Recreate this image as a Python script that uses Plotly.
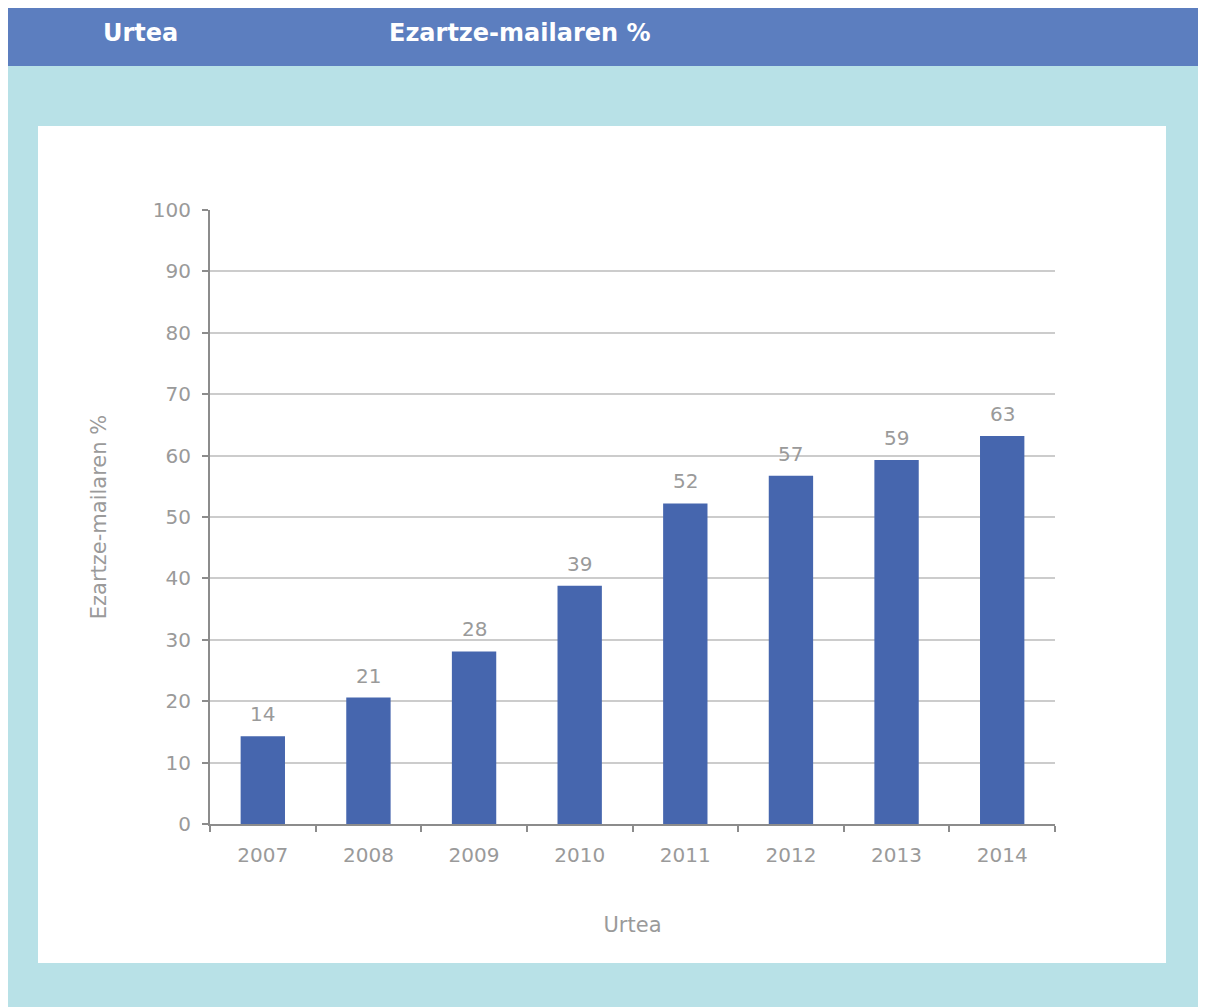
import plotly.graph_objects as go

years = ["2007", "2008", "2009", "2010", "2011", "2012", "2013", "2014"]
values = [14.3, 20.6, 28.1, 38.8, 52.2, 56.7, 59.3, 63.2]
labels = [str(round(v)) for v in values]
y_ticks = [0, 10, 20, 30, 40, 50, 60, 70, 80, 90, 100]

# page has an 8px body margin, so figure coords = screen coords - 8
OFF = 8
W, H = 1206 - OFF, 1007 - OFF
L, R, T, B = 210 - OFF, 1055 - OFF, 210 - OFF, 824 - OFF  # plot area in figure pixels


def px(x):
    return (x - OFF - L) / (R - L)


def py(y):
    return (B - (y - OFF)) / (B - T)


FONT = "DejaVu Sans"
GRAY = "#9a9a9a"
AXIS = "#8c8c8c"

fig = go.Figure(
    go.Bar(
        x=years,
        y=values,
        marker=dict(color="#4666ae", line=dict(width=0)),
        width=0.42,
        hoverinfo="x+y",
    )
)

shapes = [
    dict(type="rect", xref="paper", yref="paper", x0=px(0), x1=px(1300), y0=py(66), y1=py(1100),
         fillcolor="#b8e1e7", line=dict(width=0), layer="below"),
    dict(type="rect", xref="paper", yref="paper", x0=px(0), x1=px(1300), y0=py(0), y1=py(66),
         fillcolor="#5c7ebf", line=dict(width=0), layer="below"),
    dict(type="rect", xref="paper", yref="paper", x0=px(38), x1=px(1166), y0=py(126), y1=py(963),
         fillcolor="#ffffff", line=dict(width=0), layer="below"),
]

annotations = [
    dict(text="<b>Urtea</b>", xref="paper", yref="paper", x=px(140), y=py(33),
         xanchor="center", yanchor="middle", showarrow=False,
         font=dict(family=FONT, size=24, color="white")),
    dict(text="<b>Ezartze-mailaren %</b>", xref="paper", yref="paper", x=px(387), y=py(33),
         xanchor="left", yanchor="middle", showarrow=False,
         font=dict(family=FONT, size=24, color="white")),
]
for i, (v, lab) in enumerate(zip(values, labels)):
    annotations.append(
        dict(text=lab, x=i, y=v, xref="x", yref="y", xanchor="center", yanchor="bottom",
             yshift=8, showarrow=False, font=dict(family=FONT, size=20, color=GRAY))
    )

fig.update_layout(
    width=W,
    height=H,
    margin=dict(l=L, r=W - R, t=T, b=H - B, pad=0),
    paper_bgcolor="white",
    plot_bgcolor="rgba(0,0,0,0)",
    shapes=shapes,
    annotations=annotations,
    showlegend=False,
    font=dict(family=FONT, color=GRAY, size=20),
)

fig.update_xaxes(
    type="category",
    range=[-0.5, len(years) - 0.5],
    autorange=False,
    tickson="boundaries",
    ticks="outside",
    ticklen=6,
    tickwidth=2,
    tickcolor=AXIS,
    showline=True,
    linecolor=AXIS,
    linewidth=2,
    showgrid=False,
    tickangle=0,
    ticklabelstandoff=12,
    tickfont=dict(family=FONT, size=20, color=GRAY),
    title=dict(text="Urtea", font=dict(family=FONT, size=21, color=GRAY), standoff=51),
)

fig.update_yaxes(
    range=[0, 100],
    autorange=False,
    tickvals=y_ticks,
    ticks="outside",
    ticklen=6,
    tickwidth=2,
    tickcolor=AXIS,
    showline=True,
    linecolor=AXIS,
    linewidth=2,
    showgrid=True,
    gridcolor="#cccccc",
    gridwidth=1.5,
    zeroline=False,
    ticklabelstandoff=7,
    tickfont=dict(family=FONT, size=20, color=GRAY),
    title=dict(text="Ezartze-mailaren %", font=dict(family=FONT, size=21, color=GRAY), standoff=40),
)

fig.write_html("out.html")
